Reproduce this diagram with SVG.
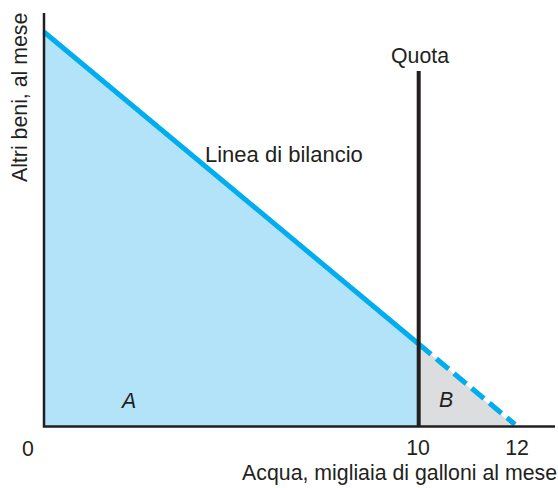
<svg xmlns="http://www.w3.org/2000/svg" width="558" height="488" viewBox="0 0 558 488">
<style>
text{font-family:"Liberation Sans",Arial,sans-serif;fill:#231f20;font-size:21.3px}
.it{font-style:italic}
.ax{stroke:#231f20;stroke-width:2.5;fill:none}
.bl{stroke:#00aeef;stroke-width:5;fill:none}
</style>
<rect width="558" height="488" fill="#fff"/>
<g id="areaA"><polygon points="44,32 418.7,344 418.7,426.5 44,426.5" fill="#b3e3f8"/><text class="it" x="129" y="408" text-anchor="middle">A</text></g>
<g id="areaB"><polygon points="418.7,344 515,426.5 418.7,426.5" fill="#dcddde"/><text class="it" x="446" y="407" text-anchor="middle">B</text></g>
<g id="connectors">
<line class="bl" x1="44" y1="32" x2="418.7" y2="344"/>
<line class="bl" x1="418.7" y1="344" x2="515" y2="424.5" stroke-dasharray="16 7"/>
<line x1="418.7" y1="71" x2="418.7" y2="426" stroke="#231f20" stroke-width="4"/>
<polyline class="ax" points="44,13 44,426.5 555,426.5"/>
</g>
<g id="labels">
<text x="28" y="456" text-anchor="middle">0</text>
<text x="418" y="455" text-anchor="middle">10</text>
<text x="517" y="455" text-anchor="middle">12</text>
<text x="557" y="480" text-anchor="end">Acqua, migliaia di galloni al mese</text>
<text transform="translate(27,182) rotate(-90)">Altri beni, al mese</text>
<text x="205" y="162" style="font-size:22px">Linea di bilancio</text>
<text x="420" y="63" text-anchor="middle">Quota</text>
</g>
</svg>
